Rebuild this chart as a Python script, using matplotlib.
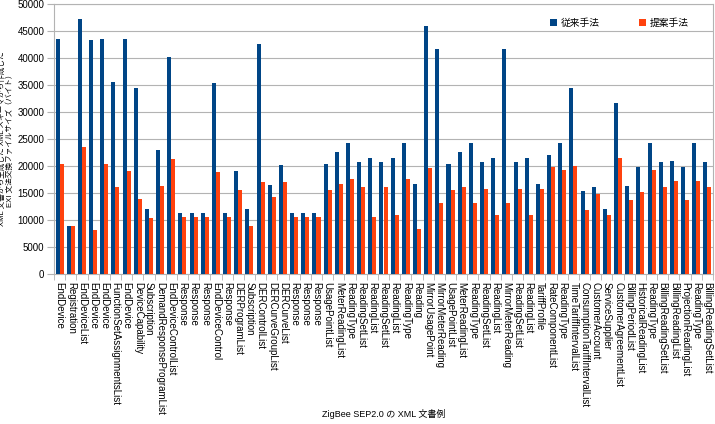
import numpy as np
import matplotlib
matplotlib.use('Agg')
import matplotlib.pyplot as plt

plt.rcParams['font.family'] = ['Liberation Sans', 'Noto Sans CJK JP', 'DejaVu Sans']

# XML 文書例 (ZigBee SEP2.0)
categories = [
    'EndDevice', 'Registration', 'EndDeviceList', 'EndDevice', 'EndDevice',
    'FunctionSetAssignmentsList', 'EndDevice', 'DeviceCapability', 'Subscription',
    'DemandResponseProgramList', 'EndDeviceControlList', 'Response', 'Response',
    'Response', 'EndDeviceControl', 'Response', 'DERProgramList', 'Subscription',
    'DERControlList', 'DERCurveGroupList', 'DERCurveList', 'Response', 'Response',
    'Response', 'UsagePointList', 'MeterReadingList', 'ReadingType', 'ReadingSetList',
    'ReadingList', 'ReadingSetList', 'ReadingList', 'ReadingType', 'Reading',
    'MirrorUsagePoint', 'MirrorMeterReading', 'UsagePointList', 'MeterReadingList',
    'ReadingType', 'ReadingSetList', 'ReadingList', 'MirrorMeterReading',
    'ReadingSetList', 'ReadingList', 'TariffProfile', 'RateComponentList',
    'ReadingType', 'TimeTariffIntervalList', 'ConsumptionTariffIntervalList',
    'CustomerAccount', 'ServiceSupplier', 'CustomerAgreementList', 'BillingPeriodList',
    'HistoricalReadingList', 'ReadingType', 'BillingReadingSetList',
    'BillingReadingList', 'ProjectionReadingList', 'ReadingType', 'BillingReadingSetList',
]

# 従来手法
conventional = [
    43450, 8900, 47150, 43350, 43500, 35600, 43500, 34400, 12000, 23000,
    40200, 11250, 11250, 11250, 35450, 11250, 19000, 12000, 42600, 16500,
    20200, 11250, 11250, 11250, 20300, 22550, 24250, 20750, 21550, 20700,
    21550, 24250, 16650, 45900, 41700, 20300, 22550, 24250, 20700, 21550,
    41600, 20700, 21550, 16650, 22050, 24250, 34450, 15300, 16100, 12000,
    31600, 16350, 19750, 24250, 20750, 21000, 19750, 24250, 20750,
]

# 提案手法
proposed = [
    20300, 8900, 23450, 8200, 20300, 16150, 19100, 13800, 10300, 16300,
    21250, 10500, 10500, 10500, 18900, 10500, 15550, 8900, 17100, 14250,
    16950, 10500, 10500, 10500, 15500, 16750, 17650, 16050, 10500, 16050,
    11000, 17650, 8400, 19650, 13100, 15500, 16150, 13100, 15700, 11000,
    13100, 15700, 11000, 15700, 19900, 19300, 20000, 11850, 14900, 11000,
    21400, 13750, 15200, 19300, 16100, 17200, 13650, 17150, 16100,
]

fig = plt.figure(figsize=(7.15, 4.24), dpi=100)
ax = fig.add_axes([54 / 715, 150 / 424, 659 / 715, 270 / 424])

x = np.arange(len(categories))
w = 0.36
ax.bar(x - w / 2, conventional, w, color='#004586', label='従来手法', zorder=3)
ax.bar(x + w / 2, proposed, w, color='#ff420e', label='提案手法', zorder=3)

ax.set_xlim(-0.5, len(categories) - 0.5)
ax.set_ylim(0, 50000)
ax.set_yticks(np.arange(0, 50001, 5000))
ax.yaxis.grid(True, color='#b3b3b3', linewidth=0.8, zorder=0)

ax.set_xticks(x)
ax.set_xticklabels(categories, rotation=270, fontsize=7, va='top', ha='center')
ax.set_xticks(np.arange(-0.5, len(categories), 1.0), minor=True)
ax.tick_params(axis='x', which='major', length=0, pad=6)
ax.tick_params(axis='x', which='minor', length=4, color='#b3b3b3')
ax.tick_params(axis='y', length=5, color='#b3b3b3', labelsize=7, pad=2)

for s in ax.spines.values():
    s.set_color('#b3b3b3')
    s.set_linewidth(0.8)

ax.set_xlabel('ZigBee SEP2.0 の XML 文書例', fontsize=6.5)
ax.xaxis.set_label_coords(0.5, -0.5)
ax.set_ylabel('XML 文書から生成した XML スキーマから作成した\nEXI 文法交換ファイルサイズ（バイト）',
              fontsize=5.5, linespacing=1.05)
ax.yaxis.set_label_coords(-0.0605, 0.5)

ax.legend(loc='upper right', bbox_to_anchor=(0.976, 0.98), ncol=2, frameon=False,
          fontsize=7, handlelength=0.7, handleheight=0.7, columnspacing=4.0,
          handletextpad=0.4)

plt.savefig('out.png', dpi=100)
